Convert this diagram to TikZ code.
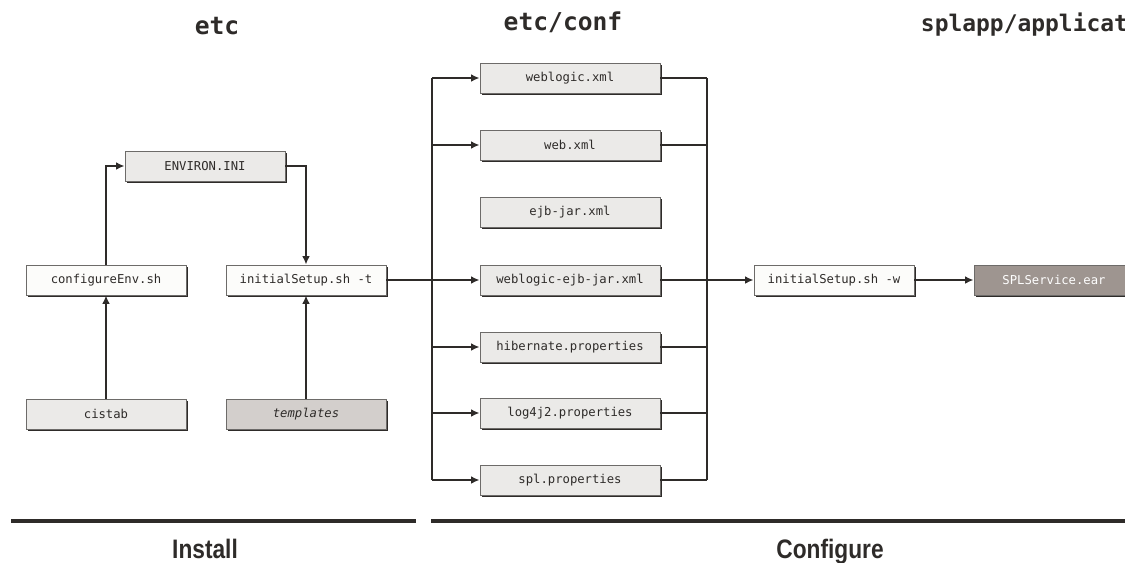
\documentclass[tikz,border=0pt]{standalone}
\usepackage{xcolor}
\usepackage{fontspec}
\setmonofont{DejaVu Sans Mono}
\newfontfamily\condfont[FakeStretch=0.85]{Liberation Sans}
\usetikzlibrary{shadows,arrows.meta}

\definecolor{ink}{HTML}{2E2B29}
\definecolor{paleBox}{HTML}{EBEAE8}
\definecolor{whiteBox}{HTML}{FCFCFA}
\definecolor{tmplBox}{HTML}{D3CFCC}
\definecolor{earBox}{HTML}{9E9590}

\tikzset{
  filebox/.style={draw=ink!70, line width=0.6pt, fill=paleBox, minimum width=4cm, minimum height=0.75cm,
    inner sep=0pt, text=ink, font=\ttfamily\fontsize{8.7}{10}\selectfont,
    drop shadow={shadow xshift=1.1pt, shadow yshift=-1.4pt, opacity=1, fill=ink}},
  confbox/.style={filebox, minimum width=4.5cm},
  arr/.style={-{Latex[length=6pt,width=5.5pt]}, ink, line width=1.3pt},
  wire/.style={ink, line width=1.3pt},
  title/.style={text=ink, font=\ttfamily\bfseries\fontsize{17.5}{19}\selectfont},
  phase/.style={text=ink, anchor=base, font=\condfont\bfseries\fontsize{19}{20}\selectfont}
}

\begin{document}
\begin{tikzpicture}[x=0.025cm, y=-0.025cm]
\useasboundingbox (0,0) rectangle (1125,562);
\clip (0,0) rectangle (1125,562);

% column titles
\node[title] (tEtc) at (217,26) {etc};
\node[title] (tConf) at (563,22) {etc/conf};
\node[title, anchor=west, font=\ttfamily\bfseries\fontsize{16.3}{18}\selectfont] (tApp) at (916,25) {splapp/applications};

% install part
\node[filebox] (envini) at (205,166) {ENVIRON.INI};
\node[filebox, fill=whiteBox] (cenv) at (106,280) {configureEnv.sh};
\node[filebox, fill=whiteBox] (tsetup) at (306,280) {initialSetup.sh -t};
\node[filebox] (cistab) at (106,414) {cistab};
\node[filebox, fill=tmplBox] (tmpl) at (306,414) {\itshape templates};

\draw[arr] (cistab.north) -- (cenv.south);
\draw[arr] (tmpl.north) -- (tsetup.south);
\draw[arr] (cenv.north) |- (envini.west);
\draw[arr] (envini.east) -| (tsetup.north);

% configure part
\node[confbox] (wl) at (570,78) {weblogic.xml};
\node[confbox] (web) at (570,145) {web.xml};
\node[confbox] (ejb) at (570,212) {ejb-jar.xml};
\node[confbox] (wej) at (570,280) {weblogic-ejb-jar.xml};
\node[confbox] (hib) at (570,347) {hibernate.properties};
\node[confbox] (log) at (570,413) {log4j2.properties};
\node[confbox] (spl) at (570,480) {spl.properties};
\node[filebox, fill=whiteBox] (wsetup) at (834,280) {initialSetup.sh -w};
\node[filebox, fill=earBox, text=white] (ear) at (1054,280) {SPLService.ear};

\coordinate (busL) at (432,0);
\coordinate (busR) at (707,0);
\draw[wire] (busL |- wl) -- (busL |- spl);
\draw[wire] (busR |- wl) -- (busR |- spl);
\foreach \f in {wl,web,hib,log,spl}{
  \draw[arr] (busL |- \f) -- (\f.west);
  \draw[wire] (\f.east) -- (busR |- \f);
}
\draw[arr] (tsetup.east) -- (wej.west);
\draw[arr] (wej.east) -- (wsetup.west);
\draw[arr] (wsetup.east) -- (ear.west);

% phases
\coordinate (barA) at (11,521);
\coordinate (barB) at (416,521);
\coordinate (barC) at (431,521);
\coordinate (barD) at (1125,521);
\draw[ink, line width=3.4pt] (barA) -- (barB);
\draw[ink, line width=3.4pt] (barC) -- (barD);
\node[phase] (install) at (205,558) {Install};
\node[phase] (configure) at (830,558) {Configure};
\end{tikzpicture}
\end{document}
